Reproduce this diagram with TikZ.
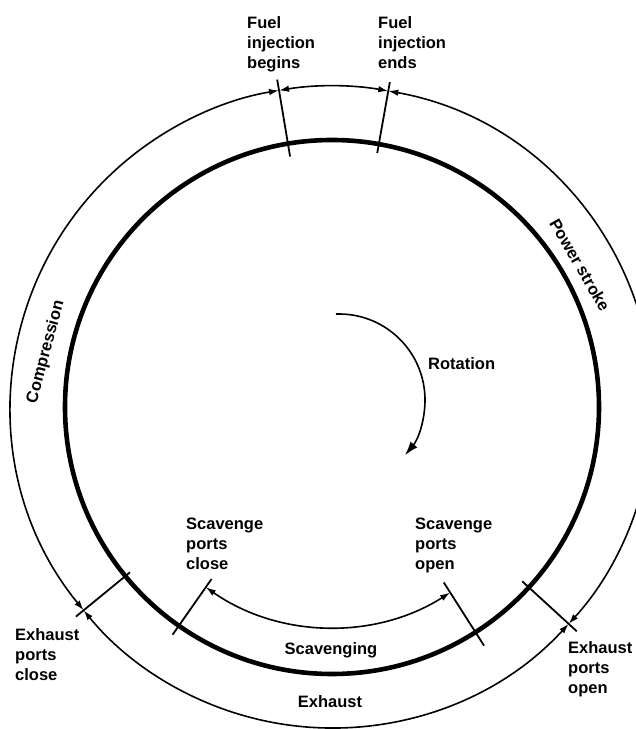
\documentclass[tikz,border=0pt]{standalone}
\usepackage{fontspec}
\setmainfont{Liberation Sans}
\usetikzlibrary{arrows.meta,calc}
\begin{document}
\begin{tikzpicture}[x=1pt,y=1pt,
  lbl/.style={font=\fontsize{16.5}{20}\selectfont\bfseries, inner sep=0pt, align=left, anchor=north west},
  word/.style={font=\fontsize{16.5}{20}\selectfont\bfseries, inner sep=0pt},
  ring/.style={line width=1.6pt},
  tickline/.style={line width=1.8pt},
  twoway/.style={{Latex[length=10pt,width=6.5pt]}-{Latex[length=10pt,width=6.5pt]}},
]
\useasboundingbox (0,0) rectangle (636,729);
\clip (0,0) rectangle (636,729);

% crank centre
\coordinate (C) at (332,322);

% crank circle
\draw[line width=4.6pt] (C) circle[radius=267];

% event ticks (inner and outer ends)
\coordinate (fb1) at ($(C)+(99.5:254)$);  \coordinate (fb2) at ($(C)+(99.5:332)$);
\coordinate (fe1) at ($(C)+(79.9:258)$);  \coordinate (fe2) at ($(C)+(79.9:330)$);
\coordinate (eo1) at ($(C)+(-42.5:258)$); \coordinate (eo2) at ($(C)+(-42.5:332)$);
\coordinate (ec1) at ($(C)+(-140.7:261)$); \coordinate (ec2) at ($(C)+(-140.7:331)$);
\coordinate (sc1) at ($(C)+(-125:210)$);  \coordinate (sc2) at ($(C)+(-125:278)$);
\coordinate (so1) at ($(C)+(-57.5:208)$); \coordinate (so2) at ($(C)+(-57.5:283)$);

\draw[tickline] (fb1) -- (fb2);
\draw[tickline] (fe1) -- (fe2);
\draw[tickline] (eo1) -- (eo2);
\draw[tickline] (ec1) -- (ec2);
\draw[tickline] (sc1) -- (sc2);
\draw[tickline] (so1) -- (so2);

% outer ring, split into phases
\coordinate (fbO) at ($(C)+(99.5:321)$);
\coordinate (feO) at ($(C)+(79.9:321)$);
\coordinate (eoO) at ($(C)+(-42.5:321)$);
\coordinate (ecO) at ($(C)+(-140.7:321)$);
\draw[ring, twoway] (fbO) arc[start angle=99.5, end angle=79.9, radius=321];
\draw[ring, twoway] (feO) arc[start angle=79.9, end angle=-42.5, radius=321];
\draw[ring, twoway] (eoO) arc[start angle=-42.5, end angle=-140.7, radius=321];
\draw[ring, twoway] (ecO) arc[start angle=219.3, end angle=99.5, radius=321];

% scavenging span
\coordinate (scA) at ($(C)+(-125:220)$);
\coordinate (soA) at ($(C)+(-57.5:220)$);
\draw[ring, twoway] (scA) arc[start angle=-125, end angle=-57.5, radius=220];

% direction of rotation
\coordinate (R0) at (339,329);
\coordinate (Rs) at ($(R0)+(92:86)$);
\draw[ring, -{Latex[length=14pt,width=9pt]}] (Rs) arc[start angle=92, end angle=-40, radius=86];

% labels
\node[lbl] (fuelB) at (247,713) {Fuel\\injection\\begins};
\node[lbl] (fuelE) at (378,713) {Fuel\\injection\\ends};
\node[lbl] (scavC) at (186,211) {Scavenge\\ports\\close};
\node[lbl] (scavO) at (415,211) {Scavenge\\ports\\open};
\node[lbl] (exhC) at (15,101) {Exhaust\\ports\\close};
\node[lbl] (exhO) at (568,88) {Exhaust\\ports\\open};
\node[word, anchor=base] (scav) at (331,74) {Scavenging};
\node[word, anchor=base] (exh) at (330,21) {Exhaust};
\node[word, anchor=base west] (rot) at (428,359) {Rotation};
\node[word, rotate=-60] (power) at (580,464) {Power stroke};
\node[word, rotate=75] (comp) at (46,377) {Compression};
\end{tikzpicture}
\end{document}
